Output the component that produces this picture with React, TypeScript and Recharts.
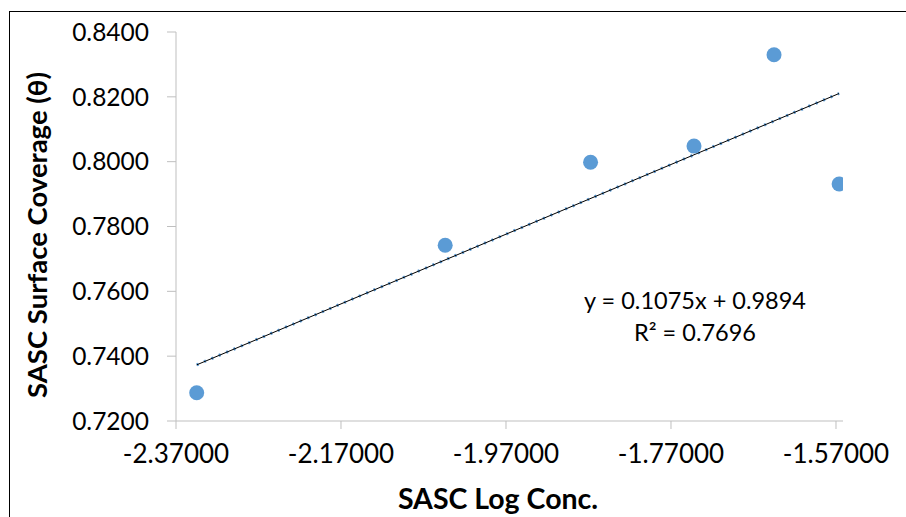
import { ScatterChart, Scatter, XAxis, YAxis, Label } from 'recharts'

// Measured points (log concentration vs. surface coverage)
const logConc = [-2.3449, -2.0437, -1.8675, -1.7421, -1.6451, -1.5662]
const coverage = [0.7287, 0.7742, 0.7998, 0.8048, 0.833, 0.7931]

const xTicks = [-2.37, -2.17, -1.97, -1.77, -1.57]
const yTicks = [0.72, 0.74, 0.76, 0.78, 0.8, 0.82, 0.84]

// Linear trendline as reported by the spreadsheet
const slope = 0.1075
const intercept = 0.9894
const trendX = [logConc[0], logConc[logConc.length - 1]]

const points = logConc.map((x, i) => ({ x, y: coverage[i] }))
const trend = trendX.map((x) => ({ x, y: slope * x + intercept }))

const FONT = 'Lato, "Open Sans", sans-serif'
const AXIS = '#BFBFBF'
const titleStyle = { fill: '#000', fontSize: 28.5, fontWeight: 700, fontFamily: FONT }

const noDot = () => <g />

export default function App() {
  return (
    <div
      style={{
        position: 'absolute',
        left: 0,
        top: 0,
        width: 906,
        height: 517,
        overflow: 'hidden',
        background: '#fff',
        fontFamily: FONT,
      }}
    >
      <div
        style={{
          position: 'absolute',
          left: 9,
          top: 11,
          width: 920,
          height: 600,
          border: '1px solid #000',
          boxSizing: 'border-box',
        }}
      />
      <ScatterChart
        width={906}
        height={517}
        margin={{ top: 32, right: 63, bottom: 0, left: 0 }}
        style={{ position: 'absolute', left: 0, top: 0 }}
      >
        <XAxis
          type="number"
          dataKey="x"
          domain={[-2.37, -1.5615]}
          ticks={xTicks}
          tickFormatter={(v: number) => v.toFixed(5)}
          height={96}
          tickSize={8}
          tickMargin={16}
          stroke={AXIS}
          tick={{ fill: '#000', fontSize: 26, fontFamily: FONT }}
          allowDataOverflow
        >
          <Label
            content={() => (
              <text x={498} y={509} textAnchor="middle" style={titleStyle}>
                SASC Log Conc.
              </text>
            )}
          />
        </XAxis>
        <YAxis
          type="number"
          dataKey="y"
          domain={[0.72, 0.84]}
          ticks={yTicks}
          tickFormatter={(v: number) => v.toFixed(4)}
          width={176}
          tickSize={9}
          tickMargin={18}
          stroke={AXIS}
          tick={{ fill: '#000', fontSize: 24.5, fontFamily: FONT }}
        >
          <Label
            content={() => (
              <text
                x={47}
                y={235}
                textAnchor="middle"
                transform="rotate(-90 47 235)"
                style={{ ...titleStyle, fontSize: 27.5 }}
              >
                SASC Surface Coverage (θ)
              </text>
            )}
          />
        </YAxis>
        <Scatter
          data={trend}
          line={{ stroke: '#5B9BD5', strokeWidth: 3, strokeDasharray: '2 6' }}
          shape={noDot}
          isAnimationActive={false}
        />
        <Scatter
          data={trend}
          line={{ stroke: '#000', strokeWidth: 1 }}
          shape={noDot}
          isAnimationActive={false}
        />
        <Scatter
          data={points}
          isAnimationActive={false}
          shape={(p: any) => <circle cx={p.cx} cy={p.cy} r={7.5} fill="#5B9BD5" />}
        />
      </ScatterChart>
      <div
        style={{
          position: 'absolute',
          left: 565,
          top: 284,
          width: 260,
          textAlign: 'center',
          fontSize: 23.5,
          lineHeight: '32px',
          whiteSpace: 'nowrap',
          color: '#000',
        }}
      >
        <div>y = 0.1075x + 0.9894</div>
        <div>R² = 0.7696</div>
      </div>
    </div>
  )
}
